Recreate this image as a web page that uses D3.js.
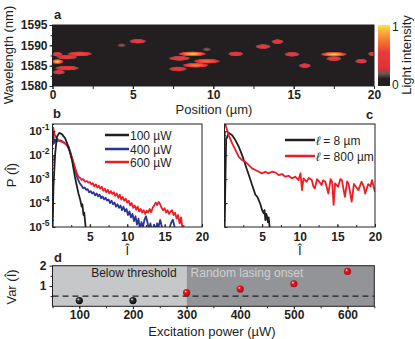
<!DOCTYPE html>
<html>
<head>
<meta charset="utf-8">
<script src="https://cdn.jsdelivr.net/npm/d3@7"></script>
<style>
body { margin: 0; background: #fff; }
svg { font-family: "Liberation Sans", Arial, sans-serif; }
</style>
</head>
<body>
<script>
// ---- panel a: lasing modes (position in um, wavelength in nm, half length in um, peak intensity)
var modePos  = [0.3, 0.9, 1.7, 0.3, 0.9, 0.4, 4.3, 5.3, 7.9, 8.7, 9.6, 9.6, 8.9, 7.8, 11.4, 13.1, 14.0, 14.9, 15.7, 17.5, 17.5, 19.2, 20.0];
var modeWl   = [1587.8, 1587.1, 1587.9, 1586.0, 1584.4, 1583.4, 1590.0, 1591.0, 1586.8, 1587.9, 1589.0, 1586.1, 1585.1, 1584.2, 1587.9, 1589.7, 1590.9, 1587.8, 1585.0, 1587.8, 1586.7, 1586.1, 1587.9];
var modeHalf = [0.35, 0.7, 0.8, 0.4, 0.8, 0.4, 0.35, 0.55, 0.7, 0.9, 0.35, 0.85, 0.85, 0.6, 0.5, 0.5, 0.4, 0.5, 0.4, 0.85, 0.5, 0.4, 0.4];
var modePeak = [0.55, 0.5, 0.65, 1.0, 0.55, 0.5, 0.25, 0.55, 0.55, 1.0, 0.25, 0.75, 0.8, 0.5, 0.55, 0.55, 0.5, 0.55, 0.5, 1.0, 0.55, 0.5, 0.55];
var posTicks = [0, 5, 10, 15, 20];
var wlTicks = [1580, 1585, 1590, 1595];

// ---- panel b: P(I) for three pump powers, pairs [I, log10 P]
var bLabels = ["100 \u00b5W", "400 \u00b5W", "600 \u00b5W"];
var b100 = [[0,-5.3],[0.13,-3.3],[0.36,-1.93],[0.58,-1.24],[0.9,-1.07],[1.25,-1.12],[1.7,-1.3],[2.14,-1.65],[2.6,-2.2],[3.0,-2.9],[3.47,-3.6],[3.7,-3.85],[3.9,-4.15],[4.0,-4.05],[4.14,-4.5],[4.25,-4.4],[4.36,-4.78],[4.5,-5.2]];
var b400 = [[0,-1.2],[0.1,-1.05],[0.2,-1.5],[0.35,-1.35],[0.5,-1.45],[0.7,-1.4],[1.0,-1.38],[1.3,-1.42],[1.6,-1.48],[1.9,-1.58],[2.2,-1.75],[2.4,-1.9],[2.6,-2.15],[2.8,-2.35],[3.0,-2.6],[3.25,-2.88],[3.5,-3.08],[3.7,-3.2],[3.9,-3.28],[4.1,-3.38],[4.3,-3.35],[4.5,-3.45],[4.7,-3.42],[4.9,-3.55],[5.1,-3.5],[5.3,-3.6],[5.5,-3.55],[5.7,-3.68],[5.9,-3.6],[6.1,-3.72],[6.3,-3.65],[6.5,-3.8],[6.7,-3.72],[6.9,-3.85],[7.1,-3.78],[7.3,-3.9],[7.5,-3.85],[7.7,-4.0],[7.9,-3.9],[8.1,-4.05],[8.3,-3.98],[8.5,-4.15],[8.7,-4.05],[8.9,-4.2],[9.1,-4.1],[9.3,-4.3],[9.5,-4.15],[9.7,-4.35],[9.9,-4.25],[10.1,-4.5],[10.3,-4.35],[10.5,-4.6],[10.7,-4.45],[10.9,-4.75],[11.1,-4.55],[11.3,-4.9],[11.5,-4.65],[11.7,-5.1],[11.9,-4.8],[12.1,-5.0],[12.3,-4.7],[12.5,-4.55],[12.7,-4.8],[12.9,-5.1],[13.1,-4.85],[13.3,-5.2],[13.6,-4.9],[13.8,-5.15],[14.0,-4.85],[14.2,-5.0],[14.4,-4.7],[14.6,-4.95],[14.8,-5.2],[15.2,-5.3],[15.6,-5.1],[15.9,-4.8],[16.1,-4.7],[16.3,-4.95],[16.5,-5.3]];
var b600 = [[0,-0.95],[0.1,-0.85],[0.25,-1.1],[0.45,-1.24],[0.8,-1.38],[1.1,-1.43],[1.47,-1.47],[1.8,-1.55],[2.14,-1.65],[2.35,-1.85],[2.58,-2.07],[2.8,-2.3],[3.03,-2.55],[3.25,-2.75],[3.47,-2.9],[3.7,-2.95],[3.9,-3.04],[4.1,-3.0],[4.36,-3.11],[4.6,-3.08],[4.8,-3.15],[5.0,-3.12],[5.2,-3.22],[5.4,-3.17],[5.6,-3.3],[5.8,-3.22],[6.0,-3.35],[6.2,-3.28],[6.4,-3.4],[6.6,-3.32],[6.8,-3.48],[7.0,-3.4],[7.2,-3.55],[7.4,-3.45],[7.6,-3.6],[7.8,-3.5],[8.0,-3.62],[8.2,-3.55],[8.4,-3.7],[8.6,-3.6],[8.8,-3.78],[9.0,-3.65],[9.2,-3.85],[9.4,-3.75],[9.6,-3.9],[9.8,-3.82],[10.0,-3.98],[10.2,-3.9],[10.4,-4.1],[10.6,-4.0],[10.8,-4.2],[11.0,-4.1],[11.2,-4.28],[11.4,-4.15],[11.6,-4.35],[11.8,-4.25],[12.0,-4.4],[12.2,-4.3],[12.4,-4.45],[12.6,-4.32],[12.8,-4.4],[13.0,-4.25],[13.2,-4.38],[13.4,-4.2],[13.6,-4.1],[13.8,-3.98],[14.0,-4.08],[14.2,-3.95],[14.4,-4.05],[14.6,-4.2],[14.8,-4.3],[15.0,-4.22],[15.2,-4.4],[15.4,-4.3],[15.6,-4.45],[15.8,-4.35],[16.0,-4.3],[16.2,-4.5],[16.4,-4.4],[16.6,-4.65],[16.8,-4.5],[17.0,-4.85],[17.2,-4.6],[17.4,-5.1]];

// ---- panel c: P(I) for two scattering lengths
var cLabels = ["= 8 \u00b5m", "= 800 \u00b5m"];
var c8 = [[0,-5.3],[0.13,-2.9],[0.22,-1.34],[0.57,-1.07],[1.02,-1.17],[1.46,-1.38],[1.9,-1.65],[2.34,-2.0],[2.78,-2.41],[3.23,-2.83],[3.67,-3.25],[4.11,-3.66],[4.33,-3.72],[4.55,-3.88],[4.77,-4.05],[4.99,-4.29],[5.21,-4.43],[5.32,-4.3],[5.43,-4.71],[5.55,-4.45],[5.65,-4.57],[5.76,-4.8],[5.87,-4.6],[5.98,-4.95],[6.1,-5.2]];
var c800 = [[0,-0.6],[0.22,-0.82],[0.57,-1.17],[1.02,-1.51],[1.46,-1.79],[1.9,-2.07],[2.34,-2.21],[2.78,-2.28],[3.23,-2.42],[3.67,-2.55],[4.11,-2.62],[4.55,-2.69],[4.99,-2.76],[5.43,-2.69],[5.87,-2.76],[6.31,-2.69],[6.75,-2.72],[7.2,-2.83],[7.64,-2.79],[8.08,-2.9],[8.52,-2.86],[8.96,-2.97],[9.4,-2.9],[9.84,-3.04],[10.1,-2.76],[10.3,-3.46],[10.5,-2.97],[10.9,-3.11],[11.2,-2.95],[11.6,-3.04],[11.8,-3.3],[12.0,-3.39],[12.3,-3.0],[12.5,-3.07],[12.9,-3.25],[13.1,-3.05],[13.4,-3.11],[13.8,-3.6],[14.1,-3.0],[14.3,-3.11],[14.5,-4.08],[14.7,-3.18],[15.1,-3.32],[15.4,-3.0],[15.6,-3.04],[16.0,-3.74],[16.3,-3.1],[16.5,-3.21],[16.9,-3.94],[17.2,-3.2],[17.4,-3.29],[17.8,-3.46],[18.2,-3.11],[18.5,-3.3],[18.7,-3.6],[19.1,-3.21],[19.4,-3.3],[19.6,-3.04],[19.8,-3.3],[20,-3.53]];
var logTicks = [1e-1, 1e-2, 1e-3, 1e-4, 1e-5];
var iTicks = [5, 10, 15, 20];

// ---- panel d: variance of I vs excitation power
var powers = [100, 200, 300, 400, 500, 600];
var variance = [0.28, 0.28, 0.67, 0.85, 1.11, 1.72];
var regionBounds = [50, 300, 650];
var regionLabels = ["Below threshold", "Random lasing onset"];
var threshold = 0.5;
var powerTicks = [100, 200, 300, 400, 500, 600];

var svg = d3.select("body").append("svg").attr("width", 415).attr("height", 339);
var defs = svg.append("defs");
var ink = "#231f20";

function boldTicks(g) {
  g.selectAll("text").attr("font-weight", "bold").attr("font-size", 12).attr("fill", ink);
  g.selectAll("line").attr("stroke", ink);
  g.select(".domain").remove();
}

// ================= panel a =================
var xa = d3.scaleLinear().domain([0, 20]).range([52.5, 374]);
var ya = d3.scaleLinear().domain([1580, 1595]).range([86, 25]);
var heat = d3.scaleLinear()
  .domain([0, 0.12, 0.2, 0.3, 0.55, 0.75, 0.9, 1])
  .range([ink, ink, "#6a5552", "#e1303a", "#ec3b3d", "#f47b2d", "#fbb13f", "#ffe646"]);

defs.append("clipPath").attr("id", "clipA").append("rect")
  .attr("x", xa(0)).attr("y", ya(1595)).attr("width", xa(20) - xa(0)).attr("height", ya(1580) - ya(1595));

svg.append("rect").attr("x", xa(0)).attr("y", ya(1595))
  .attr("width", xa(20) - xa(0)).attr("height", ya(1580) - ya(1595)).attr("fill", ink);

var modes = modePos.map(function(p, i) { return {pos: p, wl: modeWl[i], half: modeHalf[i], peak: modePeak[i]}; });
var profile = [[0, 1, 1], [0.35, 0.85, 1], [0.65, 0.62, 1], [0.85, 0.42, 0.9], [1, 0.3, 0]];
modes.forEach(function(m, i) {
  var gr = defs.append("radialGradient").attr("id", "mode" + i);
  profile.forEach(function(s) {
    gr.append("stop").attr("offset", s[0]).attr("stop-color", heat(m.peak * s[1])).attr("stop-opacity", s[2]);
  });
});
svg.append("g").attr("clip-path", "url(#clipA)")
  .selectAll("ellipse").data(modes).enter().append("ellipse")
  .attr("cx", function(d) { return xa(d.pos); })
  .attr("cy", function(d) { return ya(d.wl); })
  .attr("rx", function(d) { return xa(d.half) - xa(0); })
  .attr("ry", 2.6)
  .attr("fill", function(d, i) { return "url(#mode" + i + ")"; });

svg.append("rect").attr("x", xa(0)).attr("y", ya(1595))
  .attr("width", xa(20) - xa(0)).attr("height", ya(1580) - ya(1595))
  .attr("fill", "none").attr("stroke", ink).attr("stroke-width", 1);

svg.append("g").attr("transform", "translate(0," + ya(1580) + ")")
  .call(d3.axisBottom(xa).tickValues(d3.range(0, 20.1, 2.5)).tickSize(3).tickFormat(""))
  .call(boldTicks);
svg.append("g").attr("transform", "translate(0," + ya(1580) + ")")
  .call(d3.axisBottom(xa).tickValues(posTicks).tickSize(3).tickPadding(1).tickFormat(d3.format("d")))
  .call(boldTicks);
svg.append("g").attr("transform", "translate(" + xa(0) + ",0)")
  .call(d3.axisLeft(ya).tickValues(d3.range(1580, 1595.1, 2.5)).tickSize(2).tickFormat(""))
  .call(boldTicks);
svg.append("g").attr("transform", "translate(" + xa(0) + ",0)")
  .call(d3.axisLeft(ya).tickValues(wlTicks).tickSize(3).tickPadding(2).tickFormat(d3.format("d")))
  .call(boldTicks);

// colour bar
var cb = defs.append("linearGradient").attr("id", "cbar").attr("x1", 0).attr("y1", 1).attr("x2", 0).attr("y2", 0);
heat.domain().forEach(function(v) { cb.append("stop").attr("offset", v).attr("stop-color", heat(v)); });
svg.append("rect").attr("x", 378).attr("y", ya(1595)).attr("width", 12).attr("height", ya(1580) - ya(1595)).attr("fill", "url(#cbar)");
svg.append("text").attr("x", 392).attr("y", 31).attr("font-size", 12).attr("fill", ink).text("1");
svg.append("text").attr("x", 392).attr("y", 89).attr("font-size", 12).attr("fill", ink).text("0");
svg.append("text").attr("transform", "translate(411,55) rotate(-90)").attr("text-anchor", "middle")
  .attr("font-size", 13).attr("fill", ink).text("Light intensity");

svg.append("text").attr("transform", "translate(13,55) rotate(-90)").attr("text-anchor", "middle")
  .attr("font-size", 13).attr("fill", ink).text("Wavelength (nm)");
svg.append("text").attr("x", 214).attr("y", 114).attr("text-anchor", "middle")
  .attr("font-size", 13).attr("fill", ink).text("Position (\u00b5m)");

// ================= panels b & c =================
var yb = d3.scaleLog().domain([1e-5, 0.2]).range([227, 124]);
var xb = d3.scaleLinear().domain([0, 20]).range([52.5, 202]);
var xc = d3.scaleLinear().domain([0, 20]).range([224.5, 375]);
var minorLog = [];
[1e-5, 1e-4, 1e-3, 1e-2, 1e-1].forEach(function(dec) {
  for (var k = 2; k <= 9; k++) if (dec * k <= 0.2) minorLog.push(dec * k);
});

function logPanel(x, id, series, colors, showLabels) {
  defs.append("clipPath").attr("id", id).append("rect")
    .attr("x", x(0)).attr("y", yb(0.2)).attr("width", x(20) - x(0)).attr("height", yb(1e-5) - yb(0.2));
  var line = d3.line().x(function(d) { return x(d[0]); }).y(function(d) { return yb(Math.pow(10, d[1])); });
  var g = svg.append("g").attr("clip-path", "url(#" + id + ")");
  series.forEach(function(s, i) {
    g.append("path").datum(s).attr("d", line).attr("fill", "none")
      .attr("stroke", colors[i]).attr("stroke-width", 1.8).attr("stroke-linejoin", "round");
  });
  svg.append("rect").attr("x", x(0)).attr("y", yb(0.2)).attr("width", x(20) - x(0)).attr("height", yb(1e-5) - yb(0.2))
    .attr("fill", "none").attr("stroke", ink).attr("stroke-width", 1);
  svg.append("g").attr("transform", "translate(0," + yb(1e-5) + ")")
    .call(d3.axisBottom(x).tickValues(d3.range(2.5, 20, 2.5)).tickSize(-2).tickFormat("")).call(boldTicks);
  svg.append("g").attr("transform", "translate(0," + yb(1e-5) + ")")
    .call(d3.axisBottom(x).tickValues(iTicks).tickSize(-3).tickPadding(5).tickFormat(d3.format("d"))).call(boldTicks);
  svg.append("g").attr("transform", "translate(" + x(0) + ",0)")
    .call(d3.axisLeft(yb).tickValues(minorLog).tickSize(-1.5).tickFormat("")).call(boldTicks);
  svg.append("g").attr("transform", "translate(" + x(0) + ",0)")
    .call(d3.axisLeft(yb).tickValues(logTicks).tickSize(-3).tickFormat("")).call(boldTicks);
  if (showLabels) {
    var lab = svg.append("g").selectAll("text").data(logTicks).enter().append("text")
      .attr("x", x(0) - 3).attr("y", function(d) { return yb(d) + 4; })
      .attr("text-anchor", "end").attr("font-weight", "bold").attr("fill", ink).attr("font-size", 11.5);
    lab.append("tspan").text("10");
    lab.append("tspan").attr("dy", -5).attr("font-size", 8.5).text(function(d) { return "-" + Math.round(-Math.log10(d)); });
  }
  svg.append("text").attr("x", (x(0) + x(20)) / 2).attr("y", 255).attr("text-anchor", "middle")
    .attr("font-size", 13).attr("fill", ink).text("\u00ce");
}

logPanel(xb, "clipB", [b400, b600, b100], ["#2b3394", "#ee1c25", ink], true);
logPanel(xc, "clipC", [c8, c800], [ink, "#ee1c25"], false);

// legends
var bColors = [ink, "#2b3394", "#ee1c25"];
var legB = svg.append("g").selectAll("g").data(bLabels).enter().append("g")
  .attr("transform", function(d, i) { return "translate(105," + [135, 149, 162][i] + ")"; });
legB.append("line").attr("x1", 0).attr("x2", 24).attr("stroke", function(d, i) { return bColors[i]; }).attr("stroke-width", 2.5);
legB.append("text").attr("x", 25).attr("y", 4.5).attr("font-size", 12).attr("fill", ink).text(function(d) { return d; });

var cColors = [ink, "#ee1c25"];
var legC = svg.append("g").selectAll("g").data(cLabels).enter().append("g")
  .attr("transform", function(d, i) { return "translate(285," + [140, 156][i] + ")"; });
legC.append("line").attr("x1", 0).attr("x2", 30).attr("stroke", function(d, i) { return cColors[i]; }).attr("stroke-width", 2.5);
var lt = legC.append("text").attr("x", 31).attr("y", 4.5).attr("font-size", 12).attr("fill", ink);
lt.append("tspan").attr("font-style", "italic").text("\u2113");
lt.append("tspan").text(function(d) { return " " + d; });

svg.append("text").attr("transform", "translate(16,175) rotate(-90)").attr("text-anchor", "middle")
  .attr("font-size", 13).attr("fill", ink).text("P (\u00ce)");

// ================= panel d =================
var xd = d3.scaleLinear().domain([50, 650]).range([52.5, 374.3]);
var yd = d3.scaleLinear().domain([0, 2]).range([306.3, 265.7]);
var regColors = ["#c6c7c9", "#939497"];
var textColors = [ink, "#cfd0d2"];
svg.append("g").selectAll("rect").data(regionLabels).enter().append("rect")
  .attr("x", function(d, i) { return xd(regionBounds[i]); })
  .attr("width", function(d, i) { return xd(regionBounds[i + 1]) - xd(regionBounds[i]); })
  .attr("y", yd(2)).attr("height", yd(0) - yd(2))
  .attr("fill", function(d, i) { return regColors[i]; });
svg.append("g").selectAll("text").data(regionLabels).enter().append("text")
  .attr("x", function(d, i) { return i === 0 ? xd(regionBounds[1]) - 10 : xd(regionBounds[1]) + 4; })
  .attr("text-anchor", function(d, i) { return i === 0 ? "end" : "start"; })
  .attr("y", 277).attr("font-size", 12).attr("fill", function(d, i) { return textColors[i]; })
  .text(function(d) { return d; });

svg.append("line").attr("x1", xd(50)).attr("x2", xd(650)).attr("y1", yd(threshold)).attr("y2", yd(threshold))
  .attr("stroke", ink).attr("stroke-width", 1.4).attr("stroke-dasharray", "6,4");

svg.append("rect").attr("x", xd(50)).attr("y", yd(2)).attr("width", xd(650) - xd(50)).attr("height", yd(0) - yd(2))
  .attr("fill", "none").attr("stroke", ink).attr("stroke-width", 1);

function sphere(id, base, dark) {
  var gr = defs.append("radialGradient").attr("id", id).attr("cx", "45%").attr("cy", "45%").attr("r", "60%").attr("fx", "35%").attr("fy", "30%");
  gr.append("stop").attr("offset", 0).attr("stop-color", "#ffffff");
  gr.append("stop").attr("offset", 0.3).attr("stop-color", base);
  gr.append("stop").attr("offset", 1).attr("stop-color", dark);
}
sphere("sphRed", "#ee1c25", "#9e0b10");
sphere("sphBlack", "#3a3a3a", "#000000");
svg.append("g").selectAll("circle").data(powers).enter().append("circle")
  .attr("cx", function(d) { return xd(d); })
  .attr("cy", function(d, i) { return yd(variance[i]); })
  .attr("r", 3.6)
  .attr("fill", function(d) { return d < regionBounds[1] ? "url(#sphBlack)" : "url(#sphRed)"; });

svg.append("g").attr("transform", "translate(0," + yd(0) + ")")
  .call(d3.axisBottom(xd).tickValues(d3.range(50, 651, 50)).tickSize(2).tickFormat("")).call(boldTicks);
svg.append("g").attr("transform", "translate(0," + yd(0) + ")")
  .call(d3.axisBottom(xd).tickValues(powerTicks).tickSize(3).tickPadding(1).tickFormat(d3.format("d"))).call(boldTicks);
svg.append("g").attr("transform", "translate(" + xd(50) + ",0)")
  .call(d3.axisLeft(yd).tickValues([0.5, 1.5]).tickSize(2).tickFormat("")).call(boldTicks);
svg.append("g").attr("transform", "translate(" + xd(50) + ",0)")
  .call(d3.axisLeft(yd).tickValues([1, 2]).tickSize(3).tickPadding(3).tickFormat(d3.format("d"))).call(boldTicks);

svg.append("text").attr("transform", "translate(16,287) rotate(-90)").attr("text-anchor", "middle")
  .attr("font-size", 13).attr("fill", ink).text("Var (\u00ce)");
svg.append("text").attr("x", 212).attr("y", 336).attr("text-anchor", "middle")
  .attr("font-size", 13).attr("fill", ink).text("Excitation power (\u00b5W)");

// panel letters
var letters = [["a", 54, 19], ["b", 53, 118], ["c", 366, 119], ["d", 54, 262]];
svg.append("g").selectAll("text").data(letters).enter().append("text")
  .attr("x", function(d) { return d[1]; }).attr("y", function(d) { return d[2]; })
  .attr("font-weight", "bold").attr("font-size", 13).attr("fill", ink)
  .text(function(d) { return d[0]; });
</script>
</body>
</html>
